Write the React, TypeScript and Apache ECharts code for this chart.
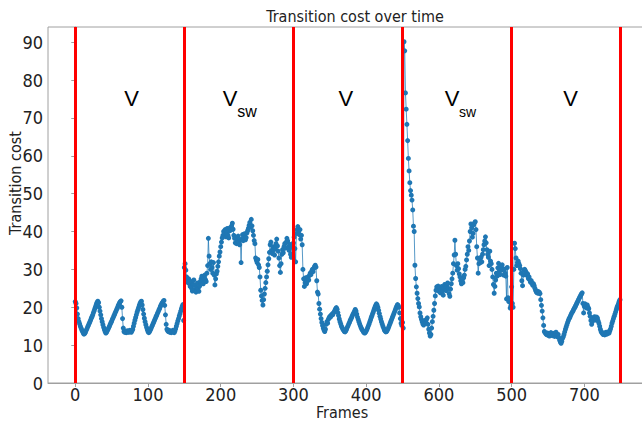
import React, { useEffect, useRef } from 'react';
import * as echarts from 'echarts';

// Transition cost per frame (frames 0..749)
const segmentV1 = [
  21.5, 21.0, 19.8, 18.2, 17.0, 16.2, 15.6, 15.0, 14.5, 14.0, 13.6, 13.2, 12.9,
  13.1, 13.4, 13.9, 14.3, 14.8, 15.2, 15.7, 16.1, 16.6, 17.1, 17.5, 18.0, 18.6, 19.1, 19.7, 20.2, 20.8, 21.3, 21.6,
  21.2, 20.0, 19.0, 18.0, 17.0, 16.2, 15.4, 14.7, 14.1, 13.6, 13.2,
  13.4, 13.8, 14.2, 14.6, 15.0, 15.5, 15.9, 16.3, 16.8, 17.2, 17.7, 18.1, 18.6, 19.0, 19.5, 19.9, 20.4, 20.8, 21.2, 21.5, 21.7,
  20.0, 17.0, 14.5, 13.6,
  13.4, 13.7, 13.3, 13.6, 13.8, 13.4, 13.5, 13.9, 13.6, 13.4, 13.8, 14.2,
  15.0, 15.8, 16.6, 17.3, 18.0, 18.7, 19.3, 19.9, 20.5, 21.0, 21.4, 21.6,
  20.6, 19.4, 18.2, 17.1, 16.2, 15.4, 14.7, 14.1, 13.6, 13.3,
  13.5, 13.9, 14.3, 14.8, 15.2, 15.7, 16.1, 16.6, 17.0, 17.5, 17.9, 18.4, 18.8, 19.3, 19.7, 20.2, 20.6, 21.0, 21.3, 21.6, 21.8,
  20.5, 18.0, 15.5, 14.2, 13.8,
  13.6, 13.9, 13.4, 13.7, 13.3, 13.6, 13.9, 13.5, 13.3, 13.7,
  14.3, 15.0, 15.7, 16.4, 17.0, 17.7, 18.3, 19.0, 19.6, 20.2, 20.7, 16.5,
];

const segmentVsw1 = [
  30.5, 31.5, 29.8, 28.0, 27.0, 26.5, 27.5, 26.2,
  25.5, 26.8, 25.0, 24.3, 26.0, 27.2, 25.8, 24.6, 24.0, 25.2, 26.4, 25.0, 24.2, 25.6, 26.8, 27.5,
  28.2, 27.0, 26.2, 27.8, 28.5, 27.3, 26.8, 29.0, 31.0,
  38.2,
  33.5, 31.5, 30.0, 32.0, 30.5, 29.0, 31.8, 28.5, 25.9, 27.5, 28.8,
  29.5, 30.8, 32.0, 33.5, 34.6, 36.0, 37.2, 38.3, 39.0,
  40.0, 39.2, 40.5, 38.6, 39.5, 40.8, 39.0, 38.3, 40.2, 41.0, 40.4, 41.5, 42.2,
  40.6, 39.0, 38.2, 37.0, 38.5, 36.8, 37.6, 38.8, 37.3, 36.5, 37.8, 31.8,
  38.0, 39.2, 37.6, 38.6, 39.4, 37.8, 38.4, 39.6, 40.2,
  40.8, 41.6, 42.4, 41.2, 43.2, 41.5, 40.2, 39.0, 37.6, 36.8, 33.0,
  32.4, 31.8, 32.6, 31.2, 30.5, 28.0, 24.5, 23.0, 21.8, 20.6, 22.0, 23.5,
  25.0, 26.5, 28.0, 29.5, 31.2, 32.8, 34.5,
  36.5, 37.2, 35.0, 34.2, 36.0, 35.2, 33.8, 35.5, 36.8, 38.0, 36.2, 34.8, 33.0, 31.0, 29.2,
  31.5, 34.0, 35.2, 34.4, 36.0, 36.8, 35.6, 37.2, 38.2, 37.5,
  36.0, 35.0, 36.6, 34.0, 33.2, 35.8, 36.5,
];

const segmentV2 = [
  37.0, 38.5, 35.5, 32.0, 39.5, 40.5,
  41.3, 40.0, 39.2, 40.5, 38.0, 39.0, 36.5,
  30.0, 27.5, 25.5, 26.5, 27.8,
  26.2, 27.0, 28.0, 27.2, 28.4, 29.0, 28.6, 29.5, 30.0, 29.4, 30.3, 30.8, 31.1, 30.6,
  27.0, 24.0, 23.5, 21.0,
  19.5, 18.2, 17.0, 16.0, 15.2, 14.5, 14.0, 13.6, 14.2,
  15.5, 16.2, 15.8, 16.8, 17.2, 17.6, 17.4, 17.9, 18.2, 18.0, 18.5, 18.8, 19.2, 19.6, 19.9, 19.5,
  18.6, 17.8, 16.9, 16.2, 15.6, 15.0, 14.6, 14.2, 13.9, 13.6, 13.5, 13.8,
  14.2, 14.7, 15.1, 15.6, 16.0, 16.5, 16.9, 17.3, 17.8, 18.2, 18.6, 19.0, 19.4, 19.0,
  18.2, 17.4, 16.8, 16.2, 15.6, 15.1, 14.6, 14.2, 13.9, 13.6, 13.3, 13.2, 13.4, 13.7,
  14.1, 14.6, 15.1, 15.6, 16.2, 16.7, 17.3, 17.8, 18.4, 18.9, 19.5, 20.0, 20.5, 20.9, 20.6,
  20.0, 19.2, 18.4, 17.6, 16.9, 16.2, 15.6, 15.0, 14.5, 14.0, 13.7, 13.5, 13.6, 13.9,
  14.3, 14.8, 15.3, 15.8, 16.3, 16.8, 17.3, 17.8, 18.3, 18.8, 19.3, 19.8, 20.3, 20.7, 20.5, 20.0,
  18.5, 17.0, 15.8, 15.2,
];

const segmentVsw2 = [
  16.0, 14.5, 90.1, 87.7,
  76.6, 72.3, 68.3, 64.0, 59.3, 56.0, 52.9, 50.8, 49.6, 48.3, 45.7, 41.4, 40.0, 31.1, 27.6, 25.4, 23.7, 22.3,
  21.0, 20.1, 18.5, 17.5, 16.8, 16.2, 15.6, 15.3, 15.8, 16.5, 16.0,
  16.8, 17.2, 15.5, 14.2, 13.2, 12.4, 12.8,
  14.5, 16.2, 17.6, 19.2, 21.0, 23.0, 24.5, 25.4, 24.8, 25.6, 24.2,
  25.0, 23.8, 24.6, 25.5, 24.2, 23.2, 25.0, 26.0, 25.2, 24.4, 25.8, 26.4, 25.0, 23.6, 22.9, 24.8, 26.2, 27.5,
  29.0, 31.5, 33.8, 37.7, 34.0, 31.0, 29.8, 31.5, 30.2, 28.8, 28.0, 27.0,
  26.2, 27.0, 26.5, 27.8, 28.5, 30.0, 30.8,
  32.5, 34.0, 36.0, 35.0, 37.5, 40.0, 42.0, 41.0, 38.5, 39.5, 41.8, 42.3, 42.6, 40.5,
  36.0, 33.0, 29.0, 31.5, 32.8, 31.8, 33.2, 32.0, 34.0, 35.2, 36.5, 37.5,
  38.6, 37.0, 35.2, 34.0, 33.2, 31.0, 34.8, 32.2, 31.5,
  30.0, 28.0, 26.0, 23.7, 25.5, 27.2,
  29.0, 28.2, 30.4, 31.6, 29.4, 28.6, 30.8, 29.8, 31.2, 30.2, 28.5, 30.0, 29.0, 28.2, 22.2, 30.5,
  22.5, 21.5, 22.0, 19.8, 20.5,
];

const segmentV3 = [
  25.4, 21.0, 20.0, 30.0,
  36.9, 35.5, 33.0, 31.0,
  31.8, 32.2, 31.5, 31.0, 30.2,
  29.0, 27.0, 25.7, 28.5, 29.8,
  30.0, 29.6, 29.2, 28.4,
  28.8, 27.6, 28.0, 27.2, 26.6, 27.0, 26.4, 25.8, 26.2, 25.7, 25.0, 24.4,
  24.0, 23.8, 24.2, 23.7, 24.0, 23.6, 22.0,
  20.5, 19.0, 17.2, 15.2, 13.6, 13.3, 13.0,
  12.8, 13.2, 12.6, 13.0, 12.4, 12.9, 13.3, 12.7, 12.5, 13.1, 12.8, 12.3, 12.9, 13.4, 12.6, 12.2, 12.8, 12.0,
  11.3, 10.8, 10.5, 11.0, 11.8,
  12.2, 12.8, 13.5, 14.2, 14.8, 15.4, 16.0, 16.5, 17.0, 17.3, 17.8,
  18.2, 18.6, 18.9, 19.3, 19.7, 20.0, 20.4, 20.8, 21.2, 21.6, 22.0, 22.4, 22.8, 23.2, 23.5, 23.8,
  21.0, 18.5, 20.2, 20.9, 20.4, 19.8, 20.6, 20.0, 19.6,
  18.5, 17.6, 16.5, 15.5, 16.2,
  17.2, 16.8, 17.5, 17.0, 16.6, 17.4, 17.1, 16.4, 15.8, 15.0, 14.2,
  13.6, 13.3, 13.0, 12.8, 13.2, 12.7, 13.0, 13.4, 12.9, 13.1, 13.5, 13.2, 13.8, 14.3,
  15.0, 15.8, 16.4, 17.0, 17.6, 18.2, 18.8, 19.4, 20.0, 20.5, 21.0, 21.6, 22.0,
];

const costValues = [...segmentV1, ...segmentVsw1, ...segmentV2, ...segmentVsw2, ...segmentV3];

const boundaryFrames = [0, 150, 300, 450, 600, 750];
const xTickValues = [0, 100, 200, 300, 400, 500, 600, 700];
const xTickLabels = ['0', '100', '200', '300', '400', '600', '500', '700'];
const yTickValues = [0, 10, 20, 30, 40, 50, 60, 70, 80, 90];

const regionLabels = [
  { frame: 77.6, cost: 75, main: 'V', sub: '', subSize: 0 },
  { frame: 213, cost: 75, main: 'V', sub: 'sw', subSize: 16 },
  { frame: 372, cost: 75, main: 'V', sub: '', subSize: 0 },
  { frame: 518, cost: 75, main: 'V', sub: 'sw', subSize: 14 },
  { frame: 681, cost: 75, main: 'V', sub: '', subSize: 0 },
];

const FONT = '"DejaVu Sans Condensed", "DejaVu Sans", sans-serif';
const ANN_FONT = '"Liberation Sans Narrow", "Liberation Sans", Arial, sans-serif';

export default function App() {
  const ref = useRef<HTMLDivElement>(null);

  useEffect(() => {
    document.body.style.margin = '0';
    if (!ref.current) return;
    const chart = echarts.init(ref.current, null, { renderer: 'svg' });
    const axisColor = '#a0a0a0';
    const labelColor = '#222';
    chart.setOption({
      animation: false,
      backgroundColor: '#fff',
      grid: {
        left: 48,
        top: 27,
        right: 2,
        bottom: 38,
        show: true,
        borderColor: axisColor,
        borderWidth: 1,
        containLabel: false,
      },
      xAxis: {
        type: 'value',
        min: -37.5,
        max: 787.5,
        axisLine: { show: true, lineStyle: { color: axisColor, width: 1 } },
        axisTick: { show: true, customValues: xTickValues, length: 4, lineStyle: { color: axisColor } },
        axisLabel: {
          customValues: xTickValues,
          formatter: (v: number) => {
            const i = xTickValues.indexOf(Math.round(v));
            return i >= 0 ? xTickLabels[i] : '';
          },
          fontSize: 18,
          lineHeight: 18,
          fontFamily: FONT,
          color: labelColor,
          margin: 2,
        },
        splitLine: { show: false },
      },
      yAxis: {
        type: 'value',
        min: 0,
        max: 94,
        axisLine: { show: true, lineStyle: { color: axisColor, width: 1 } },
        axisTick: { show: true, customValues: yTickValues, length: 4, lineStyle: { color: axisColor } },
        axisLabel: {
          customValues: yTickValues,
          fontSize: 18,
          fontFamily: FONT,
          color: labelColor,
          margin: 5,
        },
        splitLine: { show: false },
      },
      series: [
        {
          type: 'line',
          data: costValues.map((v, i) => [i, v]),
          symbol: 'circle',
          symbolSize: 5,
          showSymbol: true,
          itemStyle: { color: '#1f77b4' },
          lineStyle: { color: '#1f77b4', width: 1, opacity: 0.75 },
          emphasis: { disabled: true },
          silent: true,
          z: 2,
        },
        {
          type: 'line',
          data: [],
          silent: true,
          z: 3,
          markLine: {
            silent: true,
            symbol: ['none', 'none'],
            label: { show: false },
            lineStyle: { color: '#ff0000', width: 3, type: 'solid', opacity: 1 },
            emphasis: { disabled: true },
            data: boundaryFrames.map((f) => ({ xAxis: f })),
          },
        },
      ],
    });

    const graphics: any[] = [
      {
        type: 'text',
        x: 355,
        y: 16,
        style: { text: 'Transition cost over time', fontSize: 16, fontFamily: FONT, fill: labelColor, align: 'center', verticalAlign: 'middle' },
      },
      {
        type: 'text',
        x: 342,
        y: 412,
        style: { text: 'Frames', fontSize: 16, lineHeight: 16, fontFamily: FONT, fill: labelColor, align: 'center', verticalAlign: 'middle' },
      },
      {
        type: 'text',
        x: 15,
        y: 183,
        rotation: Math.PI / 2,
        style: { text: 'Transition cost', fontSize: 16, fontFamily: FONT, fill: labelColor, align: 'center', verticalAlign: 'middle' },
      },
    ];
    regionLabels.forEach((r) => {
      const p = chart.convertToPixel({ xAxisIndex: 0, yAxisIndex: 0 }, [r.frame, r.cost]) as number[];
      graphics.push({
        type: 'text',
        x: p[0],
        y: p[1],
        z: 10,
        style: { text: r.main, fontSize: 22, fontFamily: ANN_FONT, fill: '#000', align: 'center', verticalAlign: 'middle' },
      });
      if (r.sub) {
        graphics.push({
          type: 'text',
          x: p[0] + 7,
          y: p[1] + 13,
          z: 10,
          style: { text: r.sub, fontSize: r.subSize, fontFamily: ANN_FONT, fill: '#000', align: 'left', verticalAlign: 'middle' },
        });
      }
    });
    chart.setOption({ graphic: graphics });

    return () => chart.dispose();
  }, []);

  return (
    <div style={{ width: 642, height: 421, overflow: 'hidden', position: 'relative', background: '#fff' }}>
      <div ref={ref} style={{ width: 650, height: 421 }} />
    </div>
  );
}
